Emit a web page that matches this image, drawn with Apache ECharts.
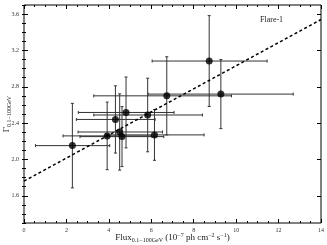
<!DOCTYPE html>
<html><head><meta charset="utf-8">
<script src="https://cdn.jsdelivr.net/npm/echarts@6/dist/echarts.min.js"></script>
<style>html,body{margin:0;padding:0;background:#fff}#c{width:327px;height:245px}</style>
</head><body><div id="c"></div>
<script>
// Observations (Flare-1)
const fluxVals  = [2.28, 3.92, 4.31, 4.51, 4.62, 4.81, 5.83, 6.15, 6.73, 8.73, 9.28];
const gammaVals = [2.152, 2.259, 2.44, 2.302, 2.251, 2.517, 2.489, 2.27, 2.70, 3.083, 2.719];
const fluxLow   = [0.54, 1.84, 2.47, 2.55, 2.64, 2.56, 3.29, 3.87, 3.29, 6.04, 5.85];
const fluxHigh  = [4.04, 6.00, 6.18, 6.53, 6.59, 7.07, 8.41, 8.49, 9.78, 11.46, 12.69];
const gammaErr  = [0.465, 0.372, 0.37, 0.42, 0.33, 0.39, 0.405, 0.28, 0.43, 0.50, 0.38];
// Linear fit endpoints
const fitX = [0, 14];
const fitY = [1.761, 3.54];
// Axis tick labels
const yMajor = [1.6, 2.0, 2.4, 2.8, 3.2, 3.6];

const FONT = 'Liberation Serif';
const chart = echarts.init(document.getElementById('c'));

const errData = fluxVals.map((x, i) => [x, gammaVals[i], fluxLow[i], fluxHigh[i], gammaVals[i] - gammaErr[i], gammaVals[i] + gammaErr[i]]);
const pts = fluxVals.map((x, i) => [x, gammaVals[i]]);
const fitData = fitX.map((x, i) => [x, fitY[i]]);

const baseX = {type:'value', min:0, max:14, interval:2,
  axisLine:{show:false}, splitLine:{show:false},
  axisTick:{inside:true, length:4, lineStyle:{color:'#000', width:1}},
  minorTick:{show:true, splitNumber:4, length:2, lineStyle:{color:'#000', width:1}}};
const baseY = {type:'value', min:1.3, max:3.7, interval:0.1, offset:0,
  axisLine:{show:false}, splitLine:{show:false},
  axisTick:{inside:true, length:2, lineStyle:{color:'#000', width:1}}};

chart.setOption({
  animation:false,
  grid:{left:24, right:6, top:5, bottom:22, show:true, borderColor:'#000', borderWidth:1,
        containLabel:false, outerBoundsMode:'none'},
  xAxis:[
    Object.assign({}, baseX, {position:'bottom',
      axisLabel:{fontFamily:FONT, fontSize:6, color:'#333', margin:4},
      name:'{a|Flux}{s|0.1−100GeV}{a| (10}{p|−7}{a| ph cm}{p|−2}{a| s}{p|−1}{a|)}',
      nameLocation:'middle', nameGap:9, nameMoveOverlap:false,
      nameTextStyle:{rich:{
        a:{fontFamily:FONT, fontSize:9, color:'#222', lineHeight:12, verticalAlign:'middle'},
        s:{fontFamily:FONT, fontSize:6, color:'#222', padding:[5,0,0,0], lineHeight:12},
        p:{fontFamily:FONT, fontSize:6, color:'#222', padding:[0,0,5,0], lineHeight:12}}}}),
    Object.assign({}, baseX, {position:'top', axisLabel:{show:false}})
  ],
  yAxis:[
    Object.assign({}, baseY, {position:'left',
      axisLabel:{fontFamily:FONT, fontSize:6, color:'#333', margin:5,
        formatter:v => (Math.round(v*10) % 4 === 0 ? v.toFixed(1) : '')},
      name:'{a|Γ}{s|0.1−100GeV}', nameLocation:'middle', nameGap:11, nameRotate:90,
      nameMoveOverlap:false,
      nameTextStyle:{rich:{
        a:{fontFamily:FONT, fontSize:9, color:'#222', lineHeight:12},
        s:{fontFamily:FONT, fontSize:6, color:'#222', padding:[5,0,0,0], lineHeight:12}}}}),
    Object.assign({}, baseY, {position:'right', axisLabel:{show:false}}),
    Object.assign({}, baseY, {position:'left', axisLabel:{show:false},
      axisTick:{inside:true, length:4, customValues:yMajor, lineStyle:{color:'#000', width:1}}}),
    Object.assign({}, baseY, {position:'right', axisLabel:{show:false},
      axisTick:{inside:true, length:4, customValues:yMajor, lineStyle:{color:'#000', width:1}}})
  ],
  series:[
    {type:'custom', xAxisIndex:0, yAxisIndex:0, data:errData, z:2,
     renderItem:(params, api) => {
       const c = api.coord([api.value(0), api.value(1)]);
       const l = api.coord([api.value(2), api.value(1)]);
       const r = api.coord([api.value(3), api.value(1)]);
       const b = api.coord([api.value(0), api.value(4)]);
       const t = api.coord([api.value(0), api.value(5)]);
       const st = {stroke:'#333', lineWidth:1, fill:null};
       const cap = 1.5;
       return {type:'group', children:[
         {type:'line', shape:{x1:l[0], y1:c[1], x2:r[0], y2:c[1]}, style:st},
         {type:'line', shape:{x1:c[0], y1:b[1], x2:c[0], y2:t[1]}, style:st},
         {type:'line', shape:{x1:l[0], y1:c[1]-cap, x2:l[0], y2:c[1]+cap}, style:st},
         {type:'line', shape:{x1:r[0], y1:c[1]-cap, x2:r[0], y2:c[1]+cap}, style:st},
         {type:'line', shape:{x1:c[0]-cap, y1:b[1], x2:c[0]+cap, y2:b[1]}, style:st},
         {type:'line', shape:{x1:c[0]-cap, y1:t[1], x2:c[0]+cap, y2:t[1]}, style:st}
       ]};
     }},
    {type:'line', data:fitData, showSymbol:false, symbol:'none', z:3,
     lineStyle:{color:'#000', width:1.5, type:[3,2.5]}},
    {type:'scatter', data:pts, symbol:'circle', symbolSize:7, z:4,
     itemStyle:{color:'#000'}}
  ],
  graphic:[{type:'text', left:260, top:16,
    style:{text:'Flare-1', fontFamily:FONT, fontSize:8, fill:'#222'}}]
});
</script></body></html>
